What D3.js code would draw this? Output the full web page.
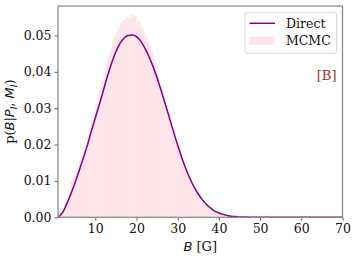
<!DOCTYPE html>
<html>
<head>
<meta charset="utf-8">
<script src="https://cdn.jsdelivr.net/npm/d3@7"></script>
<style>
  body { margin: 0; background: #fff; }
  text { font-family: "DejaVu Serif", serif; }
</style>
</head>
<body>
<div id="my_dataviz"></div>
<script>
// Direct curve
var directB = [0.95, 2, 3, 4, 5, 6, 7, 8, 9, 10, 11, 12, 13, 14, 15, 16, 17, 18, 19, 20,
               21, 22, 23, 24, 25, 26, 27, 28, 29, 30, 31, 32, 33, 34, 35, 36, 37, 38, 39, 40,
               41, 42, 43, 44, 45, 46, 48, 50, 55, 60, 70];
var directP = [0.0000, 0.0012, 0.0035, 0.0062, 0.0092, 0.0125, 0.0160, 0.0195, 0.0235, 0.0273,
               0.0311, 0.0350, 0.0390, 0.0425, 0.0455, 0.0478, 0.0493, 0.0500, 0.0501, 0.0497,
               0.0485, 0.0466, 0.0443, 0.0415, 0.0383, 0.0348, 0.0311, 0.0273, 0.0235, 0.0198,
               0.0164, 0.0133, 0.0106, 0.0083, 0.0064, 0.0048, 0.0035, 0.0025, 0.0017, 0.0012,
               0.0008, 0.0005, 0.0003, 0.0002, 0.0001, 0.00006, 0.00002, 0.00001, 0, 0, 0];

// MCMC histogram, bin width 0.5 starting at 1.0
var binStart = 1.0, binWidth = 0.5;
var mcmcP = [0.0004, 0.0013, 0.0025, 0.0038, 0.0053, 0.0072, 0.0096, 0.0111, 0.0125, 0.0139,
             0.0154, 0.0167, 0.0182, 0.0200, 0.0222, 0.0245, 0.0268, 0.0292, 0.0312, 0.0332,
             0.0352, 0.0373, 0.0397, 0.0420, 0.0443, 0.0463, 0.0481, 0.0496, 0.0510, 0.0522,
             0.0533, 0.0539, 0.0543, 0.0551, 0.0547, 0.0558, 0.0551, 0.0556, 0.0542, 0.0535,
             0.0521, 0.0513, 0.0498, 0.0485, 0.0470, 0.0455, 0.0436, 0.0415, 0.0394, 0.0372,
             0.0351, 0.0330, 0.0309, 0.0288, 0.0266, 0.0245, 0.0225, 0.0204, 0.0187, 0.0170,
             0.0153, 0.0138, 0.0124, 0.0111, 0.0098, 0.0087, 0.0076, 0.0066, 0.0058, 0.0050,
             0.0043, 0.0037, 0.0031, 0.0026, 0.0022, 0.0018, 0.0015, 0.0013, 0.0010, 0.0008,
             0.0007, 0.0005, 0.0004, 0.0003, 0.0003, 0.0002, 0.0002, 0.0001, 0.0001];

var xTicks = [10, 20, 30, 40, 50, 60, 70];
var yTicks = [0, 0.01, 0.02, 0.03, 0.04, 0.05];

var margin = {top: 6, right: 14.5, bottom: 41.7, left: 58},
    width = 357 - margin.left - margin.right,
    height = 259 - margin.top - margin.bottom;

var svg = d3.select("#my_dataviz")
  .append("svg")
    .attr("width", 357)
    .attr("height", 259)
  .append("g")
    .attr("transform", "translate(" + margin.left + "," + margin.top + ")");

var x = d3.scaleLinear().domain([0.95, 70]).range([0, width]);
var y = d3.scaleLinear().domain([0, 0.0581]).range([height, 0]);

// histogram bars
svg.append("g")
  .selectAll("rect")
  .data(mcmcP)
  .enter()
  .append("rect")
    .attr("x", function (d, i) { return x(binStart + i * binWidth); })
    .attr("width", function (d, i) { return x(binStart + (i + 1) * binWidth) - x(binStart + i * binWidth) + 0.3; })
    .attr("y", function (d) { return y(d); })
    .attr("height", function (d) { return height - y(d); })
    .style("fill", "#ffe4e9");

// direct curve
var pts = directB.map(function (b, i) { return [b, directP[i]]; });
svg.append("path")
  .datum(pts)
  .attr("fill", "none")
  .attr("stroke", "#800080")
  .attr("stroke-width", 1.5)
  .attr("d", d3.line()
    .curve(d3.curveMonotoneX)
    .x(function (d) { return x(d[0]); })
    .y(function (d) { return y(d[1]); }));

// axes
var xAxis = svg.append("g")
  .attr("transform", "translate(0," + height + ")")
  .call(d3.axisBottom(x).tickValues(xTicks).tickSize(3.5).tickPadding(3).tickFormat(d3.format("d")));
var yAxis = svg.append("g")
  .call(d3.axisLeft(y).tickValues(yTicks).tickSize(3.5).tickPadding(3).tickFormat(d3.format(".2f")));

[xAxis, yAxis].forEach(function (a) {
  a.select(".domain").remove();
  a.selectAll("line").attr("stroke", "#333").attr("stroke-width", 0.8);
  a.selectAll("text").style("font-family", "DejaVu Serif").style("font-size", "12.5px").attr("fill", "#111");
});

// frame
svg.append("rect")
  .attr("width", width).attr("height", height)
  .attr("fill", "none")
  .attr("stroke", "#8c8c8c")
  .attr("stroke-width", 1.3);

// axis labels
var xl = svg.append("text")
  .attr("x", width / 2).attr("y", height + 34)
  .attr("text-anchor", "middle")
  .style("font-size", "13px").attr("fill", "#111");
xl.append("tspan").style("font-family", "DejaVu Sans").style("font-style", "italic").text("B");
xl.append("tspan").text(" [G]");

var yl = svg.append("text")
  .attr("transform", "translate(-44," + (height / 2) + ") rotate(-90)")
  .attr("text-anchor", "middle")
  .style("font-size", "13px").attr("fill", "#111");
yl.append("tspan").text("p(");
yl.append("tspan").style("font-family", "DejaVu Sans").style("font-style", "italic").text("B");
yl.append("tspan").style("font-family", "DejaVu Sans").text("|");
yl.append("tspan").style("font-family", "DejaVu Sans").style("font-style", "italic").text("P");
yl.append("tspan").style("font-family", "DejaVu Sans").style("font-style", "italic").style("font-size", "9px").attr("dy", 2.5).text("I");
yl.append("tspan").style("font-family", "DejaVu Sans").attr("dy", -2.5).text(", ");
yl.append("tspan").style("font-family", "DejaVu Sans").style("font-style", "italic").text("M");
yl.append("tspan").style("font-family", "DejaVu Sans").style("font-style", "italic").style("font-size", "9px").attr("dy", 2.5).text("I");
yl.append("tspan").attr("dy", -2.5).text(")");

// legend
var lg = svg.append("g").attr("transform", "translate(" + (245 - margin.left) + "," + (12.3 - margin.top) + ")");
lg.append("rect")
  .attr("width", 91.5).attr("height", 41).attr("rx", 2.5)
  .attr("fill", "#fff").attr("fill-opacity", 0.8)
  .attr("stroke", "#d9d9d9").attr("stroke-width", 1);
lg.append("line")
  .attr("x1", 4.5).attr("x2", 30).attr("y1", 11).attr("y2", 11)
  .attr("stroke", "#800080").attr("stroke-width", 1.5);
lg.append("rect")
  .attr("x", 4.5).attr("y", 24.5).attr("width", 25.5).attr("height", 8)
  .attr("fill", "#ffe4e9");
lg.append("text").attr("x", 41).attr("y", 15.3).style("font-size", "12.5px").attr("fill", "#111").text("Direct");
lg.append("text").attr("x", 41).attr("y", 33).style("font-size", "12.5px").attr("fill", "#111").text("MCMC");

svg.append("text")
  .attr("x", width - 6).attr("y", 80 - margin.top)
  .attr("text-anchor", "end")
  .style("font-size", "13px")
  .attr("fill", "#a52a2a")
  .text("[B]");
</script>
</body>
</html>
